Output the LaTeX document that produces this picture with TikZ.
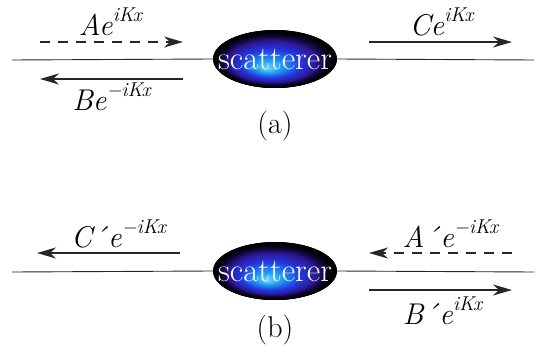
\documentclass[tikz,border=0pt]{standalone}
\usepackage{fontspec}
\usetikzlibrary{arrows.meta,positioning,calc,shapes.geometric}
\definecolor{scatcore}{RGB}{120,215,255}
\definecolor{scatlight}{RGB}{30,160,245}
\definecolor{scatblue}{RGB}{35,55,225}
\definecolor{scatpurple}{RGB}{45,25,150}
\definecolor{scatnavy}{RGB}{18,8,60}
% elliptic blob, drawn ring by ring, centre #1,#2 of the outline
\newcommand{\scatblob}[2]{%
  \foreach \ua/\ub/\ca/\cb in {1/0.94/black/black, 0.94/0.83/black/scatnavy,
      0.83/0.71/scatnavy/scatpurple, 0.71/0.50/scatpurple/scatblue,
      0.50/0.22/scatblue/scatlight, 0.22/0.01/scatlight/scatcore}{
    \foreach \k in {0,...,14}{
      \pgfmathsetmacro\s{\ua-(\ua-\ub)*\k/15}
      \pgfmathtruncatemacro\p{100-100*\k/15}
      \pgfmathsetmacro\rx{62*\s}
      \pgfmathsetmacro\ry{29*\s}
      \fill[\ca!\p!\cb] ({#1-8*(1-\s)},{#2+10*(1-\s)}) ellipse [x radius=\rx pt, y radius=\ry pt];
    }}}
\newcommand{\wave}[2]{\textit{#1}\raisebox{0.45em}{\fontsize{20pt}{20pt}\selectfont\textit{#2}}}
\tikzset{
  scat/.style  ={ellipse, minimum width=124pt, minimum height=58pt, inner xsep=-16pt, inner ysep=-8pt,
                 text=white, font=\fontsize{33pt}{33pt}\selectfont},
  lbl/.style   ={anchor=base, inner sep=0pt, font=\fontsize{30pt}{30pt}\selectfont},
  sublbl/.style={inner sep=0pt, font=\fontsize{30pt}{30pt}\selectfont},
  axis/.style  ={draw=black!85, line width=0.9pt},
  ar/.style    ={-{Stealth[length=19pt, width=11pt, inset=6pt]}, line width=1.6pt, draw=black!85},
  arw/.style   ={ar, dash pattern=on 10pt off 8pt},
}
\begin{document}
\begin{tikzpicture}[x=1pt, y=-1pt]
\useasboundingbox (0,0) rectangle (544,356);
% (a)
\scatblob{275}{59}
\node[scat] (sa) at (275,59) {scatterer};
\coordinate (la) at (12,60); \coordinate (ra) at (534,60);
\draw[axis] (la) -- (sa.west); \draw[axis] (sa.east) -- (ra);
\coordinate (a1) at (40,42); \coordinate (a2) at (183,42);
\coordinate (b1) at (183,79); \coordinate (b2) at (40,79);
\coordinate (c1) at (369,42); \coordinate (c2) at (512,42);
\draw[arw] (a1) -- (a2);
\draw[ar] (b1) -- (b2);
\draw[ar] (c1) -- (c2);
\node[lbl] (ta) at (111,35) {\wave{Ae}{iKx}};
\node[lbl] (tb) at (112,110) {\wave{Be}{−iKx}};
\node[lbl] (tc) at (442,35) {\wave{Ce}{iKx}};
\node[sublbl] (capa) at (275,126) {(a)};
% (b)
\scatblob{275}{271}
\node[scat] (sb) at (275,271) {scatterer};
\coordinate (lb) at (12,272); \coordinate (rb) at (534,272);
\draw[axis] (lb) -- (sb.west); \draw[axis] (sb.east) -- (rb);
\coordinate (c3) at (180,253); \coordinate (c4) at (37,253);
\coordinate (a3) at (512,253); \coordinate (a4) at (369,253);
\coordinate (b3) at (369,290); \coordinate (b4) at (512,290);
\draw[ar] (c3) -- (c4);
\draw[arw] (a3) -- (a4);
\draw[ar] (b3) -- (b4);
\node[lbl] (tc2) at (119,247) {\wave{C´\kern1pt e}{−iKx}};
\node[lbl] (ta2) at (451,247) {\wave{A´\kern1pt e}{−iKx}};
\node[lbl] (tb2) at (443,324) {\wave{B´\kern1pt e}{iKx}};
\node[sublbl] (capb) at (275,330) {(b)};
\end{tikzpicture}
\end{document}
